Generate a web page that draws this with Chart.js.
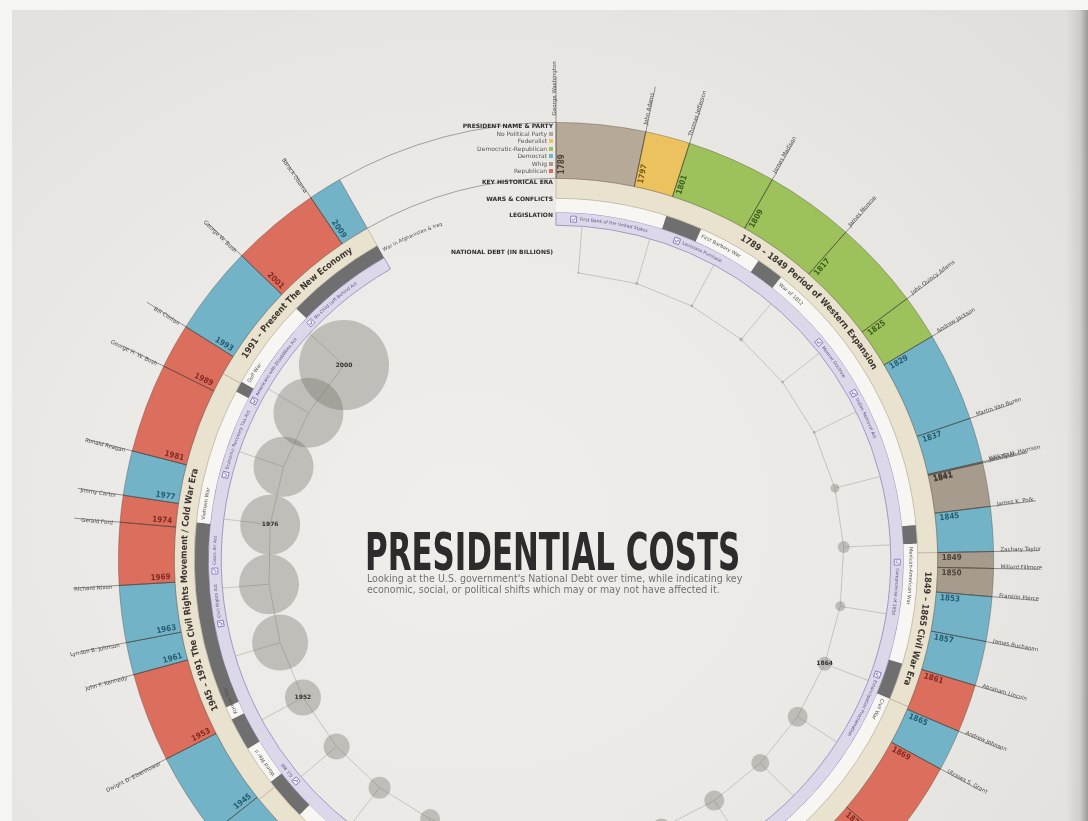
<!DOCTYPE html>
<html>
<head>
<meta charset="utf-8">
<title>Presidential Costs</title>
<script src="https://cdn.jsdelivr.net/npm/chart.js@4.4.1/dist/chart.umd.min.js"></script>
<style>
  html, body { margin: 0; padding: 0; }
  body { width: 1088px; height: 821px; overflow: hidden; position: relative; background: #f5f5f4; }
  #poster {
    position: absolute; left: 12px; top: 10px; width: 1076px; height: 811px;
    background:
      linear-gradient(to left, rgba(70,68,64,0.45) 0px, rgba(70,68,64,0.12) 8px, rgba(70,68,64,0) 22px),
      radial-gradient(ellipse 75% 85% at 42% 62%, #f0eeeb 0%, #ebe9e5 50%, #e1dfdb 100%);
  }
  canvas.layer { position: absolute; left: 56px; top: 60px; width: 1000px; height: 1000px; }
  #title {
    position: absolute; left: 365px; top: 527px; white-space: nowrap; transform-origin: 0 0;
    font: bold 51px/1 "Liberation Sans Narrow", "DejaVu Sans Condensed", "DejaVu Sans", sans-serif;
    color: #2f2a2b;
  }
  .sub {
    position: absolute; left: 367px; white-space: nowrap; transform-origin: 0 0;
    font: 10px/11px "Liberation Sans Narrow", "DejaVu Sans Condensed", "DejaVu Sans", sans-serif;
    color: #74706c;
  }
  .lg {
    position: absolute; right: 535px; white-space: nowrap;
    font: 6px/7px "DejaVu Sans", sans-serif; color: #5a5652;
  }
  .lg.key { font-weight: bold; color: #2f2b28; }
  .lg .sw { display: inline-block; width: 4px; height: 4px; margin-left: 2px; vertical-align: 0; }
</style>
</head>
<body>
<div id="poster"></div>
<canvas id="debtChart" class="layer" width="1000" height="1000"></canvas>
<canvas id="ringChart" class="layer" width="1000" height="1000"></canvas>

<div id="title">PRESIDENTIAL COSTS</div>
<div id="sub1" class="sub" style="top:573px">Looking at the U.S. government's National Debt over time, while indicating key</div>
<div id="sub2" class="sub" style="top:584px">economic, social, or political shifts which may or may not have affected it.</div>

<div id="legend">
  <div class="lg key" style="top:122px">PRESIDENT NAME &amp; PARTY</div>
  <div class="lg key" style="top:178px">KEY HISTORICAL ERA</div>
  <div class="lg key" style="top:195px">WARS &amp; CONFLICTS</div>
  <div class="lg key" style="top:211px">LEGISLATION</div>
  <div class="lg key" style="top:248px">NATIONAL DEBT (IN BILLIONS)</div>
</div>

<script>
// ===== DATA =====
const YEAR0 = 1789;
const YEAR_END = 2012;

const presidents = ['George Washington', 'John Adams', 'Thomas Jefferson', 'James Madison', 'James Monroe',
  'John Quincy Adams', 'Andrew Jackson', 'Martin Van Buren', 'William H. Harrison', 'John Tyler',
  'James K. Polk', 'Zachary Taylor', 'Millard Fillmore', 'Franklin Pierce', 'James Buchanan',
  'Abraham Lincoln', 'Andrew Johnson', 'Ulysses S. Grant', 'Rutherford B. Hayes', 'James A. Garfield',
  'Chester A. Arthur', 'Grover Cleveland', 'Benjamin Harrison', 'Grover Cleveland', 'William McKinley',
  'Theodore Roosevelt', 'William H. Taft', 'Woodrow Wilson', 'Warren G. Harding', 'Calvin Coolidge',
  'Herbert Hoover', 'Franklin D. Roosevelt', 'Harry S. Truman', 'Dwight D. Eisenhower', 'John F. Kennedy',
  'Lyndon B. Johnson', 'Richard Nixon', 'Gerald Ford', 'Jimmy Carter', 'Ronald Reagan',
  'George H. W. Bush', 'Bill Clinton', 'George W. Bush', 'Barack Obama'];
const termStarts = [1789, 1797, 1801, 1809, 1817, 1825, 1829, 1837, 1841, 1841.1,
  1845, 1849, 1850.5, 1853, 1857, 1861, 1865.3, 1869, 1877, 1881,
  1881.7, 1885, 1889, 1893, 1897, 1901.7, 1909, 1913, 1921, 1923.6,
  1929, 1933, 1945.3, 1953, 1961, 1963.9, 1969, 1974.6, 1977, 1981,
  1989, 1993, 2001, 2009];
const parties = ['NP', 'F', 'DR', 'DR', 'DR', 'DR', 'D', 'D', 'W', 'W',
  'D', 'W', 'W', 'D', 'D', 'R', 'D', 'R', 'R', 'R',
  'R', 'D', 'R', 'D', 'R', 'R', 'R', 'D', 'R', 'R',
  'R', 'D', 'D', 'R', 'D', 'D', 'R', 'R', 'D', 'R',
  'R', 'D', 'R', 'D'];

const partyKeys = ['NP', 'F', 'DR', 'D', 'W', 'R'];
const partyNames = ['No Political Party', 'Federalist', 'Democratic-Republican', 'Democrat', 'Whig', 'Republican'];

const eraBounds = [1789, 1849, 1865, 1945, 1991, 2012];
const eraLabels = ['1789 – 1849 Period of Western Expansion', '1849 – 1865 Civil War Era', '',
  '1945 – 1991 The Civil Rights Movement / Cold War Era', '1991 – Present The New Economy'];

const wars = ['First Barbary War', 'War of 1812', 'Mexican-American War', 'Civil War', 'Spanish-American War',
  'World War I', 'World War II', 'Korean War', 'Vietnam War', 'Gulf War', 'War in Afghanistan & Iraq'];
const warStarts = [1801, 1812, 1846, 1861, 1898, 1917, 1941, 1950, 1955, 1990, 2001];
const warEnds = [1805, 1815, 1848, 1865, 1898.6, 1918.9, 1945.7, 1953.6, 1975.3, 1991.2, 2012];

const laws = ['First Bank of the United States', 'Louisiana Purchase', 'Monroe Doctrine', 'Indian Removal Act',
  'Compromise of 1850', 'Emancipation Proclamation', 'G.I. Bill', 'Civil Rights Act', 'Clean Air Act',
  'Economic Recovery Tax Act', 'Americans with Disabilities Act', 'No Child Left Behind Act'];
const lawYears = [1791, 1803, 1823, 1830, 1850, 1863, 1944, 1964, 1970, 1981, 1990, 2001];

const debtYears = [1792, 1800, 1808, 1816, 1824, 1832, 1840, 1848, 1856, 1864, 1872, 1880, 1888, 1896,
  1904, 1912, 1920, 1928, 1936, 1944, 1952, 1960, 1968, 1976, 1984, 1992, 2000];
const debtBillions = [3, 6, 6, 11, 6, 6, 56, 100, 69, 136, 278, 225, 278, 250,
  250, 250, 300, 278, 336, 469, 900, 2178, 2500, 2500, 2500, 3403, 5625];
const debtLabelled = [1864, 1952, 1976, 2000];

// ===== STYLE =====
const PARTY_COLORS = { NP: '#b7a998', F: '#ecc25e', DR: '#9dc25c', D: '#73b3c7', W: '#a79b8d', R: '#dc6e5e' };
const YEAR_COLORS = { NP: '#4f463b', F: '#7a5b12', DR: '#3c5e1c', D: '#245d72', W: '#4a4036', R: '#832a20' };
const DOT_RING = 288;      // radius (px) of the debt dot circle
const LAW_RING_IN = 335;   // inner edge of the legislation ring
const PAD = 62;
const TAU = Math.PI * 2;

// yearly spokes all round the circle, so the radar scale and the ring share one year -> angle mapping
const spokeYears = [];
for (let y = YEAR0; spokeYears.length < 243; y++) spokeYears.push(y);
const ringSweep = (YEAR_END - YEAR0) / spokeYears.length * 360;

const termLengths = termStarts.map((s, i) => (i + 1 < termStarts.length ? termStarts[i + 1] : YEAR_END) - s);
const eraLengths = eraBounds.slice(1).map((b, i) => b - eraBounds[i]);
const warSpans = [], warIsWar = [];
let cursor = YEAR0;
warStarts.forEach((s, i) => {
  warSpans.push(s - cursor); warIsWar.push(false);
  warSpans.push(warEnds[i] - s); warIsWar.push(true);
  cursor = warEnds[i];
});
if (cursor < YEAR_END) { warSpans.push(YEAR_END - cursor); warIsWar.push(false); }

// ===== LEGEND =====
const legendBox = document.getElementById('legend');
partyNames.forEach((name, i) => {
  const row = document.createElement('div');
  row.className = 'lg';
  row.style.top = (130 + i * 7.4) + 'px';
  row.innerHTML = name + '<span class="sw" style="background:' + PARTY_COLORS[partyKeys[i]] + '"></span>';
  legendBox.appendChild(row);
});

// ===== TITLE FIT =====
const title = document.getElementById('title');
title.style.transform = 'scaleX(' + (375 / title.offsetWidth) + ')';
const sub1 = document.getElementById('sub1'), sub2 = document.getElementById('sub2');
const subScale = 375 / sub1.offsetWidth;
sub1.style.transform = sub2.style.transform = 'scaleX(' + subScale + ')';

// ===== HELPERS =====
function at(cx, cy, r, a) { return [cx + r * Math.cos(a), cy + r * Math.sin(a)]; }
function onRight(a) { const t = ((a + Math.PI / 2) % TAU + TAU) % TAU; return t < Math.PI - 1e-6; }

function drawArcText(ctx, text, cx, cy, r, angle, align) {
  const chars = Array.from(text);
  const widths = chars.map(ch => ctx.measureText(ch).width);
  const total = widths.reduce((s, w) => s + w, 0);
  let a = align === 'center' ? angle - total / 2 / r : angle;
  ctx.textAlign = 'center';
  ctx.textBaseline = 'middle';
  chars.forEach((ch, i) => {
    const mid = a + widths[i] / 2 / r;
    ctx.save();
    ctx.translate(cx + r * Math.cos(mid), cy + r * Math.sin(mid));
    ctx.rotate(mid + Math.PI / 2);
    ctx.fillText(ch, 0, 0);
    ctx.restore();
    a += widths[i] / r;
  });
}

// ===== RING LABELS PLUGIN =====
const ringLabels = {
  id: 'ringLabels',
  afterDatasetsDraw(chart) {
    const ctx = chart.ctx;
    const pres = chart.getDatasetMeta(0).data;
    const eras = chart.getDatasetMeta(1).data;
    const warArcs = chart.getDatasetMeta(2).data;
    const lawArc = chart.getDatasetMeta(3).data[0];
    const cx = pres[0].x, cy = pres[0].y, R = pres[0].outerRadius, Rin = pres[0].innerRadius;
    const a0 = pres[0].startAngle, a1 = pres[pres.length - 1].endAngle;
    const yearAngle = y => a0 + (y - YEAR0) / (YEAR_END - YEAR0) * (a1 - a0);

    ctx.save();
    // circle guides running through the legend gap
    ctx.strokeStyle = '#8f8c87';
    ctx.lineWidth = 0.8;
    [R, Rin].forEach(r => { ctx.beginPath(); ctx.arc(cx, cy, r, a1, a0 + TAU); ctx.stroke(); });

    // leader lines at each term start
    ctx.strokeStyle = 'rgba(55,50,45,0.7)';
    ctx.lineWidth = 0.7;
    pres.forEach(arc => {
      const [x1, y1] = at(cx, cy, Rin, arc.startAngle);
      const [x2, y2] = at(cx, cy, R + 46, arc.startAngle);
      ctx.beginPath(); ctx.moveTo(x1, y1); ctx.lineTo(x2, y2); ctx.stroke();
    });

    // president names outside the ring
    ctx.fillStyle = '#4e4b47';
    ctx.font = '5.5px "DejaVu Sans", sans-serif';
    pres.forEach((arc, i) => {
      const a = arc.startAngle, right = onRight(a);
      const [x, y] = at(cx, cy, R + 7, a);
      ctx.save();
      ctx.translate(x, y);
      ctx.rotate(right ? a : a + Math.PI);
      ctx.textAlign = right ? 'left' : 'right';
      ctx.textBaseline = 'middle';
      ctx.fillText(presidents[i], 0, right ? -1.5 : 1.5);
      ctx.restore();
    });

    // inauguration years inside the segments
    ctx.font = 'bold 8px "DejaVu Sans Condensed", "DejaVu Sans", sans-serif';
    pres.forEach((arc, i) => {
      const a = arc.startAngle, right = onRight(a);
      const [x, y] = at(cx, cy, Rin + 4, a);
      ctx.save();
      ctx.translate(x, y);
      ctx.rotate(right ? a : a + Math.PI);
      ctx.fillStyle = YEAR_COLORS[parties[i]];
      if (right) { ctx.textAlign = 'left'; ctx.textBaseline = 'top'; ctx.fillText(Math.floor(termStarts[i]), 0, 1.5); }
      else { ctx.textAlign = 'right'; ctx.textBaseline = 'bottom'; ctx.fillText(Math.floor(termStarts[i]), 0, -1.5); }
      ctx.restore();
    });

    // historical eras along the beige ring
    ctx.fillStyle = '#3b3530';
    ctx.font = 'bold 9px "DejaVu Sans Condensed", "DejaVu Sans", sans-serif';
    eras.forEach((arc, i) => {
      if (!eraLabels[i]) return;
      drawArcText(ctx, eraLabels[i], cx, cy, (arc.innerRadius + arc.outerRadius) / 2,
        (arc.startAngle + arc.endAngle) / 2, 'center');
    });

    // wars
    ctx.fillStyle = '#55524e';
    ctx.font = '5px "DejaVu Sans", sans-serif';
    let w = 0;
    warArcs.forEach((arc, i) => {
      if (!warIsWar[i]) return;
      const r = (arc.innerRadius + arc.outerRadius) / 2;
      drawArcText(ctx, wars[w++], cx, cy, r, arc.endAngle + 3 / r, 'start');
    });

    // legislation marks
    const rl = (lawArc.innerRadius + lawArc.outerRadius) / 2;
    lawYears.forEach((yr, i) => {
      const a = yearAngle(yr);
      const [x, y] = at(cx, cy, rl, a);
      ctx.save();
      ctx.translate(x, y);
      ctx.rotate(a + Math.PI / 2);
      ctx.fillStyle = '#f3f1fa';
      ctx.strokeStyle = '#7c71b9';
      ctx.lineWidth = 0.8;
      ctx.fillRect(-3, -3, 6, 6);
      ctx.strokeRect(-3, -3, 6, 6);
      ctx.beginPath(); ctx.moveTo(-1.8, -0.2); ctx.lineTo(-0.4, 1.5); ctx.lineTo(2, -1.8); ctx.stroke();
      ctx.restore();
      ctx.fillStyle = '#5c5581';
      ctx.font = '4.5px "DejaVu Sans", sans-serif';
      drawArcText(ctx, laws[i], cx, cy, rl, a + 6 / rl, 'start');
    });
    ctx.restore();
  }
};

// ===== DEBT PATH PLUGIN =====
const debtPath = {
  id: 'debtPath',
  beforeDatasetsDraw(chart) {
    const ctx = chart.ctx;
    const values = chart.data.datasets[0].data;
    const pts = chart.getDatasetMeta(0).data.filter((p, i) => values[i] !== null);
    ctx.save();
    ctx.strokeStyle = '#c6c3be';
    ctx.lineWidth = 1;
    ctx.beginPath();
    pts.forEach((p, i) => i ? ctx.lineTo(p.x, p.y) : ctx.moveTo(p.x, p.y));
    ctx.stroke();
    ctx.restore();
  },
  afterDatasetsDraw(chart) {
    const ctx = chart.ctx;
    const pts = chart.getDatasetMeta(0).data;
    ctx.save();
    ctx.fillStyle = '#34302c';
    ctx.font = 'bold 6px "DejaVu Sans", sans-serif';
    ctx.textAlign = 'center';
    ctx.textBaseline = 'middle';
    debtLabelled.forEach(yr => {
      const p = pts[spokeYears.indexOf(yr)];
      ctx.fillText(String(yr), p.x, p.y);
    });
    ctx.restore();
  }
};

Chart.defaults.font.family = '"DejaVu Sans", sans-serif';

// ===== CHART: National debt dots (radar) =====
const isDotYear = i => debtYears.includes(spokeYears[i]);
new Chart(document.getElementById('debtChart'), {
  type: 'radar',
  data: {
    labels: spokeYears,
    datasets: [{
      label: 'National Debt (in billions)',
      data: spokeYears.map(y => debtYears.includes(y) ? DOT_RING : null),
      spanGaps: true,
      fill: false,
      borderColor: 'transparent',
      borderWidth: 1,
      pointBackgroundColor: 'rgba(110,105,98,0.35)',
      pointBorderWidth: 0,
      pointBorderColor: 'transparent',
      pointRadius: c => {
        const k = debtYears.indexOf(spokeYears[c.dataIndex]);
        return k < 0 ? 0 : 0.6 * Math.sqrt(debtBillions[k]);
      }
    }]
  },
  options: {
    responsive: false,
    animation: false,
    events: [],
    layout: { padding: PAD },
    plugins: { legend: { display: false }, tooltip: { enabled: false } },
    scales: {
      r: {
        min: 0,
        max: 438,
        startAngle: 0,
        ticks: { display: false },
        grid: { display: false },
        pointLabels: { display: false },
        angleLines: {
          display: true,
          color: c => isDotYear(c.index) ? '#c2bfba' : 'transparent',
          lineWidth: c => isDotYear(c.index) ? 0.9 : 0,
          borderDash: [0, DOT_RING, LAW_RING_IN - DOT_RING, 2000]
        }
      }
    }
  },
  plugins: [debtPath]
});

// ===== CHART: Presidents / eras / wars / legislation rings =====
new Chart(document.getElementById('ringChart'), {
  type: 'doughnut',
  data: {
    labels: presidents,
    datasets: [
      {
        label: 'President',
        data: termLengths,
        backgroundColor: parties.map(p => PARTY_COLORS[p]),
        borderColor: 'rgba(70,60,50,0.45)',
        borderWidth: 0.8,
        weight: 56
      },
      {
        label: 'Key historical era',
        data: eraLengths,
        backgroundColor: '#e9e2cf',
        borderColor: '#bdb49f',
        borderWidth: 0.8,
        weight: 20
      },
      {
        label: 'Wars & conflicts',
        data: warSpans,
        backgroundColor: warIsWar.map(v => v ? '#6f6f6f' : '#f7f6f2'),
        borderWidth: 0,
        weight: 14
      },
      {
        label: 'Legislation',
        data: [YEAR_END - YEAR0],
        backgroundColor: '#dcd8ea',
        borderColor: '#9f98c4',
        borderWidth: 1,
        weight: 13
      }
    ]
  },
  options: {
    responsive: false,
    animation: false,
    events: [],
    rotation: 0,
    circumference: ringSweep,
    cutout: '76.5%',
    layout: { padding: PAD },
    plugins: { legend: { display: false }, tooltip: { enabled: false } }
  },
  plugins: [ringLabels]
});
</script>
</body>
</html>
